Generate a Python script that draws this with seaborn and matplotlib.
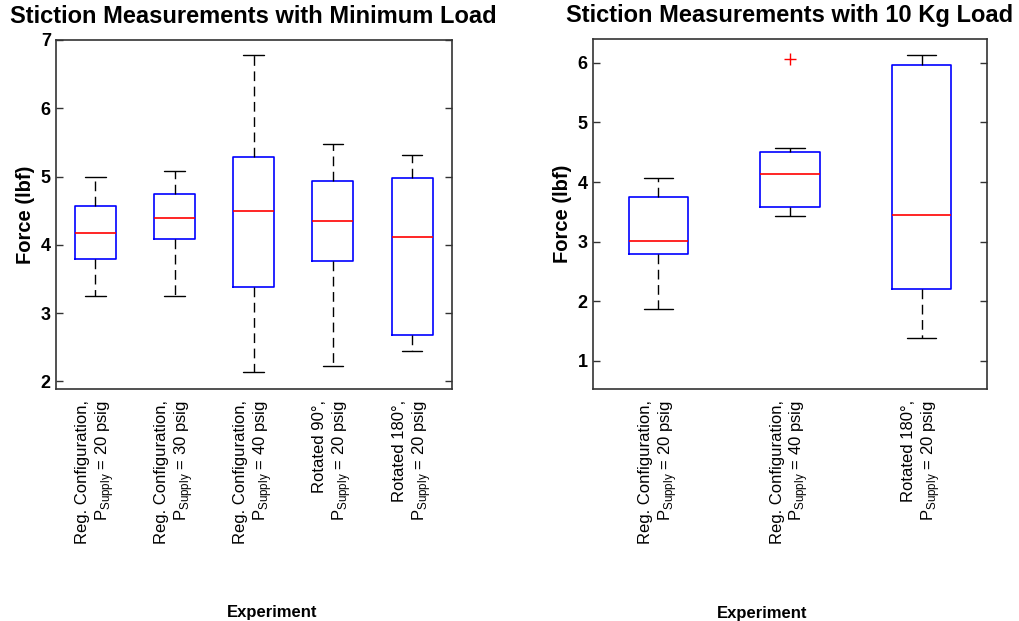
import numpy as np
import pandas as pd
import seaborn as sns
import matplotlib.pyplot as plt

# left panel: minimum load
min_labels = ['Reg. Configuration,\nP$_{\\mathregular{Supply}}$ = 20 psig',
              'Reg. Configuration,\nP$_{\\mathregular{Supply}}$ = 30 psig',
              'Reg. Configuration,\nP$_{\\mathregular{Supply}}$ = 40 psig',
              'Rotated 90\u00b0,\nP$_{\\mathregular{Supply}}$ = 20 psig',
              'Rotated 180\u00b0,\nP$_{\\mathregular{Supply}}$ = 20 psig']
min_reg20 = [3.25, 3.79, 4.18, 4.57, 5.00]
min_reg30 = [3.25, 4.08, 4.40, 4.75, 5.08]
min_reg40 = [2.14, 3.38, 4.49, 5.28, 6.78]
min_rot90 = [2.23, 3.76, 4.35, 4.93, 5.47]
min_rot180 = [2.45, 2.68, 4.12, 4.98, 5.31]

# right panel: 10 kg load
kg_labels = ['Reg. Configuration,\nP$_{\\mathregular{Supply}}$ = 20 psig',
             'Reg. Configuration,\nP$_{\\mathregular{Supply}}$ = 40 psig',
             'Rotated 180\u00b0,\nP$_{\\mathregular{Supply}}$ = 20 psig']
kg_reg20 = [1.88, 2.79, 3.01, 3.75, 4.07]
kg_reg40 = [3.43, 3.50, 3.58, 3.85, 4.14, 4.35, 4.51, 4.58, 6.07]
kg_rot180 = [1.39, 2.21, 3.45, 5.96, 6.13]


def long_df(labels, groups):
    rows = []
    for lab, vals in zip(labels, groups):
        for v in vals:
            rows.append({'experiment': lab, 'force': v})
    return pd.DataFrame(rows)


df_min = long_df(min_labels, [min_reg20, min_reg30, min_reg40, min_rot90, min_rot180])
df_kg = long_df(kg_labels, [kg_reg20, kg_reg40, kg_rot180])

sns.set_style('white')
plt.rcParams['font.family'] = ['Liberation Sans', 'DejaVu Sans']
plt.rcParams['mathtext.fontset'] = 'custom'
plt.rcParams['mathtext.rm'] = 'Liberation Sans'
plt.rcParams['text.color'] = 'black'
plt.rcParams['axes.labelcolor'] = 'black'
plt.rcParams['xtick.color'] = 'black'
plt.rcParams['ytick.color'] = 'black'

fig = plt.figure(figsize=(10.19, 6.21), dpi=100)
ax1 = fig.add_axes([55.7 / 1019, 1 - 389 / 621, 396 / 1019, 349 / 621])
ax2 = fig.add_axes([592.7 / 1019, 1 - 389 / 621, 394.6 / 1019, 350 / 621])

box_kws = dict(fill=False, whis=1.5,
               boxprops=dict(color='blue', linewidth=1.2),
               medianprops=dict(color='red', linewidth=1.2),
               whiskerprops=dict(color='black', linestyle=(0, (7, 4)), linewidth=1.0),
               capprops=dict(color='black', linewidth=1.0),
               flierprops=dict(marker='+', markeredgecolor='red', markersize=9, markeredgewidth=1.0))

sns.boxplot(data=df_min, x='experiment', y='force', order=min_labels, width=0.52, ax=ax1, **box_kws)
sns.boxplot(data=df_kg, x='experiment', y='force', order=kg_labels, width=0.45, ax=ax2, **box_kws)

ax1.set_ylim(1.89, 7.0)
ax1.set_yticks([2, 3, 4, 5, 6, 7])
ax2.set_ylim(0.53, 6.4)
ax2.set_yticks([1, 2, 3, 4, 5, 6])

titles = ['Stiction Measurements with Minimum Load', 'Stiction Measurements with 10 Kg Load']
label_x = [0.546, 0.43]
for ax, t, lx, n in zip([ax1, ax2], titles, label_x, [5, 3]):
    ax.set_xlim(-0.5, n - 0.5)
    ax.set_title(t, fontsize=17, fontweight='bold', pad=12)
    ax.set_ylabel('Force (lbf)', fontsize=14.5, fontweight='bold')
    ax.set_xlabel('Experiment', fontsize=12, fontweight='bold')
    ax.xaxis.set_label_coords(lx, -0.62)
    ax.tick_params(axis='y', direction='in', right=True, left=True, length=5,
                   labelsize=13, width=1, color='#333333', labelcolor='black')
    ax.tick_params(axis='x', length=0, pad=8, labelcolor='black')
    for lbl in ax.get_yticklabels():
        lbl.set_fontweight('bold')
    for lbl in ax.get_xticklabels():
        lbl.set_rotation(90)
        lbl.set_fontsize(12)
        lbl.set_multialignment('right')
        lbl.set_va('top')
        lbl.set_ha('center')
    for s in ax.spines.values():
        s.set_visible(True)
        s.set_color('#333333')
        s.set_linewidth(1.2)

fig.savefig('out.png', dpi=100)
